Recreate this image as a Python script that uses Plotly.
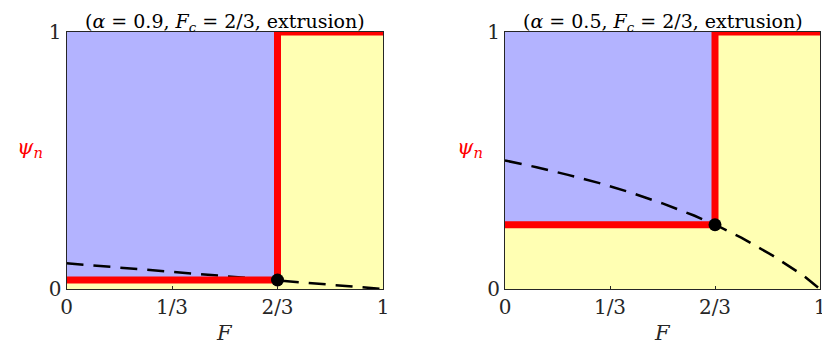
import plotly.graph_objects as go

# values
F_c = 2 / 3
alphas = [0.9, 0.5]
psi_step = [0.035, 0.25]          # red step level below F_c for each panel

F_dash_left = [0, 0.25, 0.5, 0.667, 0.75, 1.0]
psi_dash_left = [0.1, 0.075, 0.052, 0.035, 0.027, 0.0]

F_dash_right = [0, 0.1, 0.2, 0.3, 0.4, 0.5, 0.6, 0.667, 0.75, 0.85, 0.95, 1.0]
psi_dash_right = [0.5, 0.474, 0.444, 0.412, 0.375, 0.333, 0.286, 0.25, 0.2, 0.13, 0.05, 0.0]

tick_vals = [0, 1 / 3, 2 / 3, 1]
tick_text = ["0", "1/3", "2/3", "1"]

BLUE = "#b3b3ff"
YELLOW = "#ffffb3"
RED = "#ff0000"
FONT = "DejaVu Serif, Liberation Serif, serif"

# the page body has an 8px margin, so the figure is a bit smaller than the window
OFF = 8
W, H = 830 - OFF, 357 - OFF


def px(x):
    return (x - OFF) / W


def py(y):
    return 1 - (y - OFF) / H


fig = go.Figure()

dashes = [(F_dash_left, psi_dash_left), (F_dash_right, psi_dash_right)]
for i, (alpha, lev, (fx, fy)) in enumerate(zip(alphas, psi_step, dashes)):
    xa = "x" if i == 0 else "x2"
    ya = "y" if i == 0 else "y2"
    # blue region (yellow is the plot background)
    fig.add_trace(go.Scatter(x=[0, F_c, F_c, 0, 0], y=[lev, lev, 1, 1, lev],
                             fill="toself", fillcolor=BLUE, mode="lines",
                             line=dict(width=0), xaxis=xa, yaxis=ya,
                             showlegend=False, hoverinfo="skip"))
    fig.add_trace(go.Scatter(x=fx, y=fy, mode="lines",
                             line=dict(color="black", width=2.5, dash="17px,10px"),
                             xaxis=xa, yaxis=ya, showlegend=False))
    fig.add_trace(go.Scatter(x=[0, F_c, F_c, 1], y=[lev, lev, 1, 1], mode="lines",
                             line=dict(color=RED, width=7), xaxis=xa, yaxis=ya,
                             showlegend=False))
    fig.add_trace(go.Scatter(x=[F_c], y=[lev], mode="markers",
                             marker=dict(color="black", size=13), xaxis=xa, yaxis=ya,
                             showlegend=False))

ax_common = dict(range=[0, 1], showgrid=False, zeroline=False, showline=True,
                 mirror=True, linecolor="#262626", linewidth=1.2,
                 ticks="inside", ticklen=3, tickcolor="#262626",
                 tickfont=dict(family=FONT, size=20, color="#262626"),
                 fixedrange=True, automargin=False)
y_dom = [py(289), py(32)]
fig.update_layout(
    width=W, height=H,
    margin=dict(l=0, r=0, t=0, b=0),
    paper_bgcolor="white", plot_bgcolor=YELLOW,
    xaxis=dict(ax_common, domain=[px(66.5), px(383)], tickvals=tick_vals,
               ticktext=tick_text, anchor="y"),
    yaxis=dict(ax_common, domain=y_dom, tickvals=[0, 1], ticktext=["0", "1"], anchor="x"),
    xaxis2=dict(ax_common, domain=[px(505), px(820)], tickvals=tick_vals,
                ticktext=tick_text, anchor="y2"),
    yaxis2=dict(ax_common, domain=y_dom, tickvals=[0, 1], ticktext=["0", "1"], anchor="x2"),
)

centers = [px((66.5 + 383) / 2), px((505 + 820) / 2)]
ylab_x = [px(30), px(470)]
for i, alpha in enumerate(alphas):
    fig.add_annotation(xref="paper", yref="paper", x=centers[i], y=1,
                       text=f"(<i>α</i> = {alpha}, <i>F<sub>c</sub></i> = 2/3, extrusion)",
                       showarrow=False, xanchor="center", yanchor="top",
                       font=dict(family=FONT, size=19, color="black"))
    fig.add_annotation(xref="paper", yref="paper", x=centers[i], y=py(333),
                       text="<i>F</i>", showarrow=False, xanchor="center", yanchor="middle",
                       font=dict(family=FONT, size=21, color="#262626"))
    fig.add_annotation(xref="paper", yref="paper", x=ylab_x[i], y=py(148),
                       text="<i>ψ<sub>n</sub></i>", showarrow=False, xanchor="center",
                       yanchor="middle", font=dict(family=FONT, size=21, color=RED))

fig.write_html("out.html")
